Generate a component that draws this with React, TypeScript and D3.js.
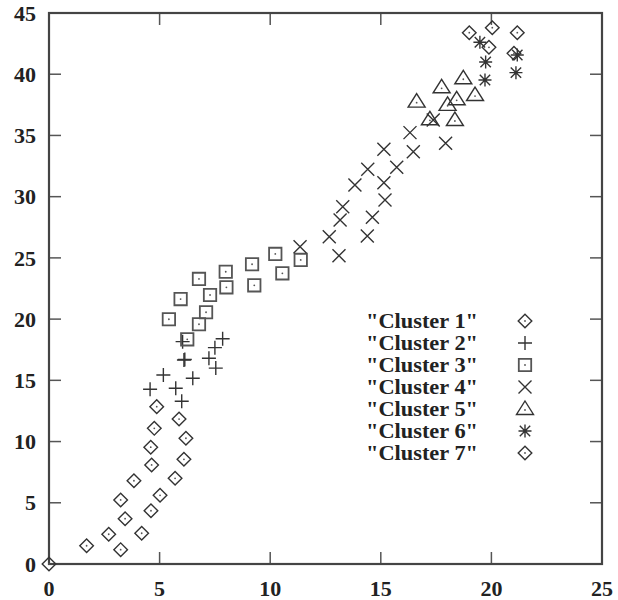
import React from "react";
import * as d3 from "d3";

// values
const cluster1 = [
  [0, 0], [1.7, 1.49], [2.7, 2.43], [3.24, 1.17], [3.44, 3.7], [3.24, 5.23],
  [3.84, 6.8], [4.19, 2.51], [4.61, 4.35], [5.02, 5.61], [4.64, 8.09], [4.6, 9.54],
  [4.76, 11.08], [4.87, 12.85], [5.7, 7.0], [6.1, 8.55], [6.19, 10.27], [5.88, 11.84],
];
const cluster2 = [
  [4.57, 14.27], [5.73, 14.35], [6.0, 13.29], [6.04, 18.16], [6.1, 16.66], [6.14, 16.7],
  [7.85, 18.4], [7.5, 17.67], [7.23, 16.8], [7.54, 16.0], [5.17, 15.44], [6.5, 15.17],
];
const cluster3 = [
  [5.42, 19.99], [5.95, 21.64], [6.78, 23.28], [7.28, 21.97], [7.1, 20.56], [6.78, 19.58],
  [6.25, 18.35], [7.99, 23.87], [8.02, 22.6], [9.18, 24.48], [9.28, 22.76], [10.23, 25.32],
  [10.55, 23.74], [11.38, 24.83],
];
const cluster4 = [
  [11.35, 25.91], [13.11, 25.18], [12.67, 26.73], [13.16, 28.1], [13.28, 29.18], [13.83, 30.95],
  [14.41, 32.24], [15.14, 33.87], [16.32, 35.23], [16.47, 33.67], [15.72, 32.4], [15.14, 31.14],
  [15.19, 29.73], [14.62, 28.32], [14.39, 26.79], [17.93, 34.36], [17.37, 36.26],
];
const cluster5 = [
  [18.73, 39.67], [17.75, 38.93], [19.26, 38.3], [18.43, 37.95], [18.02, 37.5], [16.62, 37.76],
  [17.22, 36.32], [18.35, 36.26],
];
const cluster6 = [
  [19.48, 42.61], [19.74, 41.0], [19.71, 39.53], [21.17, 41.57], [21.11, 40.13],
];
const cluster7 = [
  [19.0, 43.39], [20.04, 43.8], [19.89, 42.2], [21.17, 43.39], [21.02, 41.71],
];

const seriesNames = ["Cluster 1", "Cluster 2", "Cluster 3", "Cluster 4", "Cluster 5", "Cluster 6", "Cluster 7"];
const seriesData = [cluster1, cluster2, cluster3, cluster4, cluster5, cluster6, cluster7];
const seriesShapes = ["diamond", "plus", "square", "cross", "triangle", "star", "diamond"];

const xTicks = [0, 5, 10, 15, 20, 25];
const yTicks = [0, 5, 10, 15, 20, 25, 30, 35, 40, 45];

const W = 618;
const H = 600;
const margin = { left: 49, right: 16, top: 13, bottom: 36 };
const ink = "#333";

function markerPath(shape: string) {
  const p = d3.path();
  if (shape === "diamond") {
    const r = 6.8;
    p.moveTo(0, -r); p.lineTo(r, 0); p.lineTo(0, r); p.lineTo(-r, 0); p.closePath();
  } else if (shape === "square") {
    const r = 6.2;
    p.rect(-r, -r, 2 * r, 2 * r);
  } else if (shape === "triangle") {
    p.moveTo(0, -8); p.lineTo(8.5, 5.5); p.lineTo(-8.5, 5.5); p.closePath();
  } else if (shape === "plus") {
    const r = 7;
    p.moveTo(-r, 0); p.lineTo(r, 0); p.moveTo(0, -r); p.lineTo(0, r);
  } else if (shape === "cross") {
    const r = 6.5;
    p.moveTo(-r, -r); p.lineTo(r, r); p.moveTo(-r, r); p.lineTo(r, -r);
  } else if (shape === "star") {
    const r = 6.5;
    p.moveTo(-r, 0); p.lineTo(r, 0); p.moveTo(0, -r); p.lineTo(0, r);
    p.moveTo(-r * 0.8, -r * 0.8); p.lineTo(r * 0.8, r * 0.8);
    p.moveTo(-r * 0.8, r * 0.8); p.lineTo(r * 0.8, -r * 0.8);
  }
  return p.toString();
}

const hasDot = (shape: string) => shape === "diamond" || shape === "square" || shape === "triangle";

function Marker({ shape, x, y }: { shape: string; x: number; y: number }) {
  return (
    <g transform={`translate(${x},${y})`}>
      <path
        d={markerPath(shape)}
        fill="none"
        stroke={shape === "square" ? "#555" : ink}
        strokeWidth={shape === "square" ? 1.8 : 1.4}
      />
      {hasDot(shape) && <circle cx={0} cy={shape === "triangle" ? 1 : 0} r={0.9} fill="#555" />}
    </g>
  );
}

export default function App() {
  const x = d3.scaleLinear().domain([0, 25]).range([margin.left, W - margin.right]);
  const y = d3.scaleLinear().domain([0, 45]).range([H - margin.bottom, margin.top]);
  const [x0, x1] = x.range();
  const [y0, y1] = y.range();
  const tickLen = 12;
  const font = "'Liberation Serif', 'Times New Roman', serif";

  return (
    <svg width={W} height={H} style={{ position: "absolute", left: 0, top: 0, background: "#fff" }}>
      {/* ticks, mirrored */}
      {xTicks.map((t) => (
        <g key={"xt" + t}>
          <line x1={x(t)} x2={x(t)} y1={y0} y2={y0 - tickLen} stroke="#555" strokeWidth={1.5} />
          <line x1={x(t)} x2={x(t)} y1={y1} y2={y1 + tickLen} stroke="#555" strokeWidth={1.5} />
          <text x={x(t)} y={596} textAnchor="middle" fontFamily={font} fontWeight="bold" fontSize={22} fill="#222">
            {t}
          </text>
        </g>
      ))}
      {yTicks.map((t) => (
        <g key={"yt" + t}>
          <line x1={x0} x2={x0 + tickLen} y1={y(t)} y2={y(t)} stroke="#555" strokeWidth={1.5} />
          <line x1={x1} x2={x1 - tickLen} y1={y(t)} y2={y(t)} stroke="#555" strokeWidth={1.5} />
          <text x={36} y={y(t)} dy="0.35em" textAnchor="end" fontFamily={font} fontWeight="bold" fontSize={22} fill="#222">
            {t}
          </text>
        </g>
      ))}
      <rect x={x0} y={y1} width={x1 - x0} height={y0 - y1} fill="none" stroke="#444" strokeWidth={2.2} />

      {seriesData.map((pts, i) =>
        pts.map((d, j) => <Marker key={i + "-" + j} shape={seriesShapes[i]} x={x(d[0])} y={y(d[1])} />)
      )}

      {/* legend */}
      {seriesNames.map((name, i) => {
        const ly = 321 + i * 22;
        return (
          <g key={"lg" + i}>
            <text
              x={366}
              y={ly}
              dy="0.35em"
              fontFamily={font}
              fontWeight="bold"
              fontSize={20}
              textLength={112}
              lengthAdjust="spacingAndGlyphs"
              fill="#222"
            >
              {`"${name}"`}
            </text>
            <Marker shape={seriesShapes[i]} x={525} y={ly} />
          </g>
        );
      })}
    </svg>
  );
}
